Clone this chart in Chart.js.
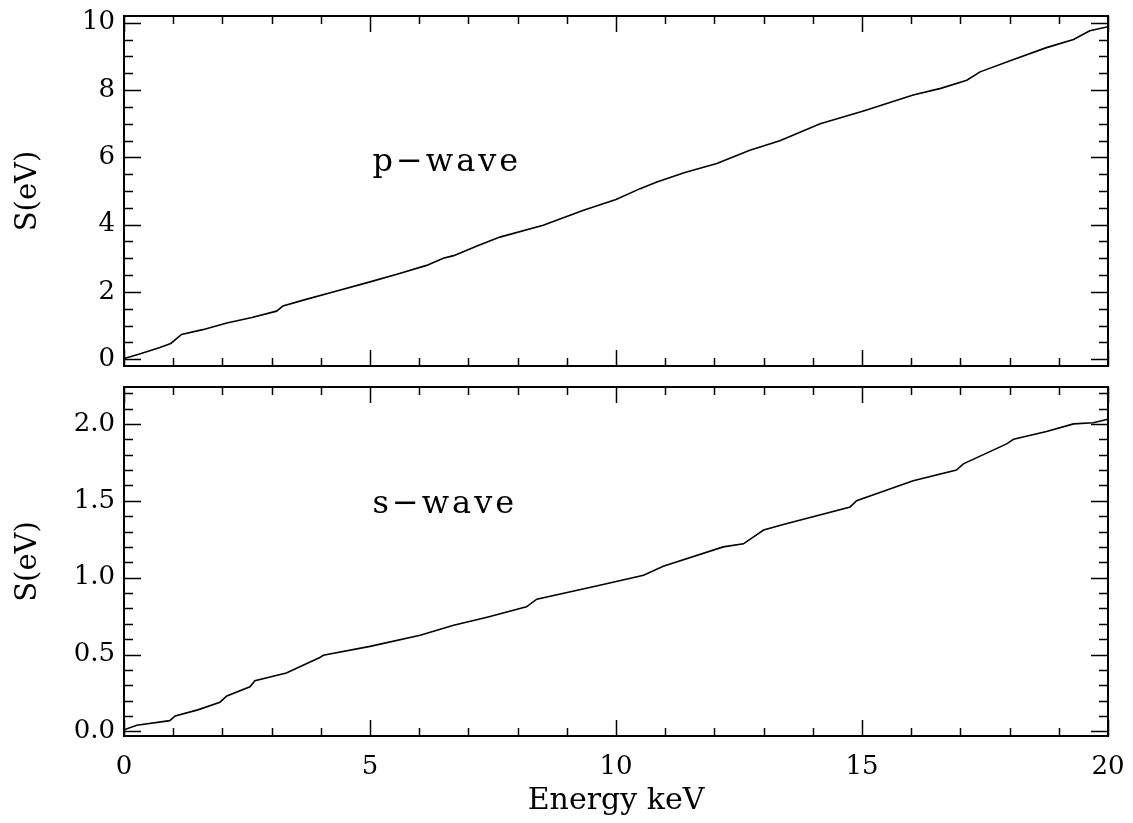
<!DOCTYPE html>
<html lang="en">
<head>
    <meta charset="UTF-8" />
    <title>S(eV) vs Energy</title>
    <script src="https://cdn.jsdelivr.net/npm/chart.js"></script>
    <style>
        body { margin: 0; background: #fff; }
        .panel { position: absolute; left: 0; }
        #pChart { top: 0; }
        #sChart { top: 380px; }
    </style>
</head>
<body>

    <canvas id="pChart" class="panel" width="1133" height="380"></canvas>
    <canvas id="sChart" class="panel" width="1133" height="443"></canvas>

    <script>
        // p-wave curve
        const pEnergy = [0, 0.3, 0.73, 0.95, 1.17, 1.6, 2.09, 2.6, 3.1, 3.23, 3.7, 4.25, 5.0, 5.6, 6.15, 6.49, 6.7, 7.2, 7.64, 8.52, 9.34, 10.0, 10.49, 10.83, 11.4, 12.05, 12.72, 13.33, 14.15, 15.03, 16.04, 16.6, 17.13, 17.4, 18.08, 18.75, 19.3, 19.63, 20.0];
        const pValues = [0.02, 0.15, 0.35, 0.47, 0.74, 0.88, 1.08, 1.24, 1.43, 1.58, 1.78, 2.0, 2.3, 2.55, 2.79, 3.0, 3.08, 3.38, 3.63, 3.98, 4.43, 4.75, 5.07, 5.27, 5.55, 5.82, 6.21, 6.49, 7.0, 7.38, 7.85, 8.05, 8.29, 8.54, 8.91, 9.26, 9.5, 9.76, 9.88];

        // s-wave curve
        const sEnergy = [0, 0.26, 0.93, 1.04, 1.5, 1.95, 2.09, 2.56, 2.66, 3.3, 3.98, 4.05, 5.0, 6.02, 6.7, 7.4, 8.18, 8.39, 9.67, 10.56, 10.96, 12.18, 12.59, 13.0, 13.4, 14.76, 14.89, 16.04, 16.92, 17.06, 17.94, 18.08, 18.75, 19.3, 19.7, 20.0];
        const sValues = [0.01, 0.04, 0.07, 0.10, 0.14, 0.19, 0.23, 0.29, 0.33, 0.38, 0.48, 0.495, 0.553, 0.625, 0.69, 0.744, 0.81, 0.86, 0.95, 1.016, 1.074, 1.2, 1.22, 1.31, 1.345, 1.46, 1.50, 1.63, 1.70, 1.74, 1.87, 1.90, 1.95, 2.0, 2.007, 2.03];

        const xTicks = [0, 5, 10, 15, 20];
        const pTicks = [0, 2, 4, 6, 8, 10];
        const sTicks = [0.0, 0.5, 1.0, 1.5, 2.0];

        const serif = '"DejaVu Serif", "Liberation Serif", serif';
        const tickFont = { family: serif, size: 26 };
        const titleFont = { family: serif, size: 29 };

        // box + inward ticks on all four sides, and the panel label
        const frameTicks = {
            id: 'frameTicks',
            afterDatasetsDraw(chart, args, opts) {
                const { ctx, chartArea: a, scales: { x, y } } = chart;
                ctx.save();
                ctx.strokeStyle = '#000';
                ctx.lineWidth = 1.5;

                const isMajor = (list, v) => list.some(m => Math.abs(m - v) < 1e-6);
                const xMaj = x.ticks.map(t => t.value);
                const yMaj = y.ticks.map(t => t.value);

                ctx.beginPath();
                for (let k = Math.ceil(x.min / opts.xMinor - 1e-6); k * opts.xMinor <= x.max + 1e-6; k++) {
                    const v = k * opts.xMinor;
                    const px = Math.round(x.getPixelForValue(v)) + 0.5;
                    const len = isMajor(xMaj, v) ? 16 : 8;
                    ctx.moveTo(px, a.bottom); ctx.lineTo(px, a.bottom - len);
                    ctx.moveTo(px, a.top); ctx.lineTo(px, a.top + len);
                }
                for (let k = Math.ceil(y.min / opts.yMinor - 1e-6); k * opts.yMinor <= y.max + 1e-6; k++) {
                    const v = k * opts.yMinor;
                    const py = Math.round(y.getPixelForValue(v)) + 0.5;
                    const len = isMajor(yMaj, v) ? 17 : 9;
                    ctx.moveTo(a.left, py); ctx.lineTo(a.left + len, py);
                    ctx.moveTo(a.right, py); ctx.lineTo(a.right - len, py);
                }
                ctx.stroke();

                ctx.lineWidth = 2;
                ctx.strokeRect(a.left, a.top, a.right - a.left, a.bottom - a.top);

                ctx.fillStyle = '#000';
                ctx.font = '32px ' + serif;
                ctx.letterSpacing = '3px';
                ctx.textBaseline = 'alphabetic';
                ctx.fillText(opts.label, x.getPixelForValue(opts.labelX), y.getPixelForValue(opts.labelY));
                ctx.restore();
            }
        };

        const noPad = s => { s.paddingTop = 0; s.paddingBottom = 0; s.paddingLeft = 0; s.paddingRight = 0; };

        function lineData(xs, ys) {
            return xs.map((e, i) => ({ x: e, y: ys[i] }));
        }

        function panel(id, xs, ys, yMin, yMax, yTickList, yMinor, label, labelY, isBottom) {
            return new Chart(document.getElementById(id), {
                type: 'line',
                data: {
                    datasets: [{
                        data: lineData(xs, ys),
                        borderColor: '#000',
                        borderWidth: 1.6,
                        pointRadius: 0,
                        tension: 0
                    }]
                },
                options: {
                    responsive: false,
                    animation: false,
                    layout: { padding: { top: isBottom ? 7 : 16, right: 25, bottom: isBottom ? 0 : 14, left: 0 } },
                    plugins: {
                        legend: { display: false },
                        tooltip: { enabled: false },
                        frameTicks: { xMinor: 1, yMinor: yMinor, label: label, labelX: 5.05, labelY: labelY }
                    },
                    scales: {
                        x: {
                            type: 'linear',
                            min: 0,
                            max: 20,
                            afterBuildTicks: s => { s.ticks = xTicks.map(v => ({ value: v })); },
                            afterFit: s => { noPad(s); s.height = isBottom ? 87 : 0; },
                            grid: { display: false, drawTicks: false },
                            border: { display: false },
                            ticks: { display: isBottom, color: '#000', font: tickFont, padding: 16, maxRotation: 0 },
                            title: {
                                display: isBottom,
                                text: 'Energy keV',
                                color: '#000',
                                font: { family: serif, size: 30 },
                                padding: { top: 0, bottom: 4 }
                            }
                        },
                        y: {
                            min: yMin,
                            max: yMax,
                            afterBuildTicks: s => { s.ticks = yTickList.map(v => ({ value: v })); },
                            afterFit: s => { noPad(s); s.width = 124; },
                            grid: { display: false, drawTicks: false },
                            border: { display: false },
                            ticks: {
                                color: '#000',
                                font: tickFont,
                                padding: 9,
                                callback: v => isBottom ? v.toFixed(1) : String(v)
                            },
                            title: { display: true, text: 'S(eV)', color: '#000', font: titleFont, padding: { top: 11, bottom: 0 } }
                        }
                    }
                },
                plugins: [frameTicks]
            });
        }

        panel('pChart', pEnergy, pValues, -0.2, 10.2, pTicks, 0.5, 'p\u2212wave', 5.6, false);
        panel('sChart', sEnergy, sValues, -0.03, 2.24, sTicks, 0.1, 's\u2212wave', 1.42, true);
    </script>

</body>
</html>
